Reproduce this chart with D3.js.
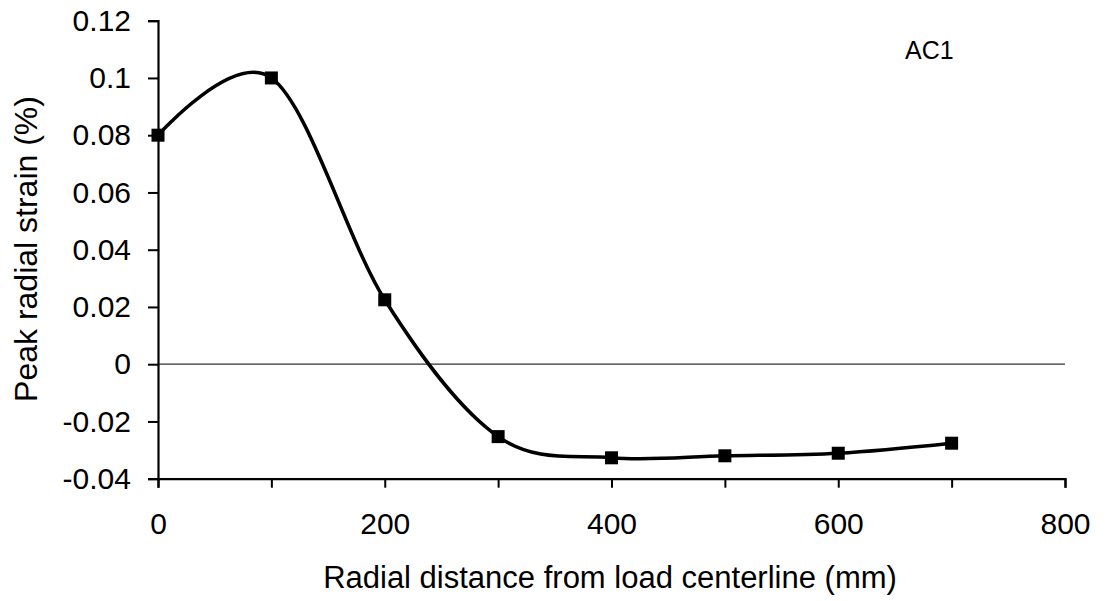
<!DOCTYPE html>
<html>
<head>
<meta charset="utf-8">
<script src="https://cdn.jsdelivr.net/npm/d3@7/dist/d3.min.js"></script>
<style>
  html, body { margin: 0; padding: 0; background: #fff; }
  svg { display: block; }
  text { font-family: "Liberation Sans", Arial, sans-serif; fill: #000; }
</style>
</head>
<body>
<svg id="chart" width="1105" height="601"></svg>
<script>
// Radial distance from load centerline (mm)
const distances = [0, 100, 200, 300, 400, 500, 600, 700];
// Peak radial strain (%) measured at each distance
const strains = [0.080, 0.100, 0.0225, -0.0253, -0.0327, -0.032, -0.0311, -0.0276];
// Axis ticks
const xTicks = [0, 100, 200, 300, 400, 500, 600, 700, 800];
const xTickLabels = [0, 200, 400, 600, 800];
const yTicks = [0.12, 0.1, 0.08, 0.06, 0.04, 0.02, 0, -0.02, -0.04];
const yTickLabels = ["0.12", "0.1", "0.08", "0.06", "0.04", "0.02", "0", "-0.02", "-0.04"];
const seriesLabel = "AC1";

const svg = d3.select("#chart");
const plotLeft = 158, plotRight = 1065, plotTop = 20.7, plotBottom = 478.7;

const x = d3.scaleLinear().domain([0, 800]).range([plotLeft, plotRight]);
const y = d3.scaleLinear().domain([-0.04, 0.12]).range([plotBottom, plotTop]);

// zero reference line
svg.append("line")
  .attr("x1", plotLeft).attr("x2", plotRight)
  .attr("y1", y(0)).attr("y2", y(0))
  .attr("stroke", "#333").attr("stroke-width", 1.2);

// y axis
const yAxis = d3.axisLeft(y)
  .tickValues(yTicks)
  .tickSize(10)
  .tickPadding(17)
  .tickFormat((d, i) => yTickLabels[i]);
const gy = svg.append("g").attr("transform", `translate(${plotLeft},0)`).call(yAxis);
gy.select(".domain").attr("stroke", "#000").attr("stroke-width", 2.2);
gy.selectAll(".tick line").attr("stroke", "#000").attr("stroke-width", 2);
gy.selectAll(".tick text")
  .style("font-family", '"Liberation Sans", Arial, sans-serif')
  .style("font-size", "30px").attr("fill", "#000");

// x axis
const xAxis = d3.axisBottom(x)
  .tickValues(xTicks)
  .tickSize(9)
  .tickPadding(25)
  .tickFormat(d => xTickLabels.includes(d) ? String(d) : "");
const gx = svg.append("g").attr("transform", `translate(0,${plotBottom})`).call(xAxis);
gx.select(".domain").attr("stroke", "#000").attr("stroke-width", 2.2);
gx.selectAll(".tick line").attr("stroke", "#000").attr("stroke-width", 2);
gx.selectAll(".tick text")
  .style("font-family", '"Liberation Sans", Arial, sans-serif')
  .style("font-size", "30px").attr("fill", "#000");

// smoothed data line
const line = d3.line()
  .x((d, i) => x(distances[i]))
  .y(d => y(d))
  .curve(d3.curveCardinal.tension(0));
svg.append("path")
  .datum(strains)
  .attr("d", line)
  .attr("fill", "none")
  .attr("stroke", "#000")
  .attr("stroke-width", 3.5)
  .attr("stroke-linejoin", "round");

// square markers
const ms = 13;
svg.append("g").selectAll("rect")
  .data(strains)
  .join("rect")
  .attr("x", (d, i) => x(distances[i]) - ms / 2)
  .attr("y", d => y(d) - ms / 2)
  .attr("width", ms).attr("height", ms)
  .attr("fill", "#000");

// axis titles
svg.append("text")
  .attr("x", 610).attr("y", 588)
  .attr("text-anchor", "middle")
  .style("font-size", "31px")
  .text("Radial distance from load centerline (mm)");

svg.append("text")
  .attr("transform", "translate(37,249) rotate(-90)")
  .attr("text-anchor", "middle")
  .style("font-size", "32px")
  .text("Peak radial strain (%)");

// series tag
svg.append("text")
  .attr("x", 905).attr("y", 59)
  .style("font-size", "25px")
  .text(seriesLabel);
</script>
</body>
</html>
